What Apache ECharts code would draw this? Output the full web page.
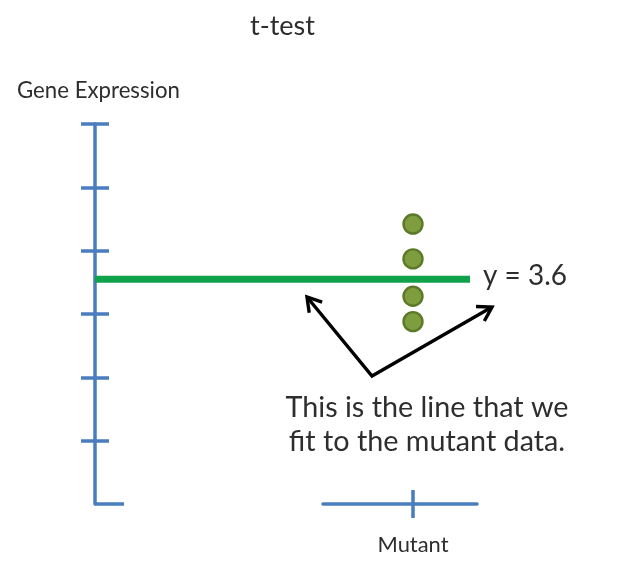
<!DOCTYPE html>
<html><head><meta charset="utf-8">
<script src="https://cdn.jsdelivr.net/npm/echarts@6/dist/echarts.min.js"></script>
<style>html,body{margin:0;padding:0;background:#fff}#c{width:618px;height:573px}</style>
</head><body><div id="c"></div>
<script>
const titleText = 't-test';
const yAxisName = 'Gene Expression';
const categories = ['Mutant'];
const mutantValues = [4.42, 3.87, 3.28, 2.88];
const fittedMean = [3.55];
const fitLabel = 'y = 3.6';
const yTickValues = [0, 1, 2, 3, 4, 5, 6];
const annotationLines = ['This is the line that we', 'fit to the mutant data.'];

const FONT = 'Lato';
const TXT = '#2e2e2e';
const BLUE = '#4a7dbd';
const AW = 3.5;
const ctx = document.createElement('canvas').getContext('2d');
function fit(text, w) { ctx.font = '100px ' + FONT; return 100 * w / ctx.measureText(text).width; }

const chart = echarts.init(document.getElementById('c'), null, { renderer: 'canvas' });

function arrowHead(tip, from, len, ang) {
  const dx = from[0] - tip[0], dy = from[1] - tip[1];
  const L = Math.hypot(dx, dy), ux = dx / L, uy = dy / L;
  const rot = (a) => [tip[0] + len * (ux * Math.cos(a) - uy * Math.sin(a)), tip[1] + len * (ux * Math.sin(a) + uy * Math.cos(a))];
  return [rot(ang), tip, rot(-ang)];
}
const vertex = [372, 376], tipL = [307, 297], tipR = [492, 307];
const arrowStyle = { stroke: '#000', lineWidth: 3.4, fill: null, lineJoin: 'miter', lineCap: 'butt' };

const lastTick = yTickValues[yTickValues.length - 1];

const option = {
  animation: false,
  backgroundColor: '#fff',
  title: {
    text: titleText, left: 245, top: 8,
    textStyle: { fontFamily: FONT, fontWeight: 'normal', color: TXT, fontSize: fit(titleText, 65) }
  },
  grid: [
    { left: 95, top: 124, width: 375, height: 380, outerBoundsMode: 'none' },
    { left: 349, top: 124, width: 128, height: 380, outerBoundsMode: 'none' },
    { left: 323, top: 124, width: 154, height: 380, outerBoundsMode: 'none' }
  ],
  xAxis: [
    { gridIndex: 0, type: 'value', min: 0, max: 1, show: false },
    { gridIndex: 1, type: 'category', data: categories, position: 'bottom',
      axisLine: { show: false },
      axisTick: { show: true, alignWithLabel: true, inside: false, length: 14, lineStyle: { color: BLUE, width: AW } },
      axisLabel: { show: true, margin: 41, verticalAlign: 'middle', color: TXT, fontFamily: FONT, fontSize: fit(categories[0], 71) },
      splitLine: { show: false } },
    { gridIndex: 1, type: 'category', data: categories, position: 'bottom',
      axisLine: { show: false },
      axisTick: { show: true, alignWithLabel: true, inside: true, length: 14, lineStyle: { color: BLUE, width: AW } },
      axisLabel: { show: false }, splitLine: { show: false } },
    { gridIndex: 2, type: 'value', min: 0, max: 1, position: 'bottom',
      axisLine: { show: true, lineStyle: { color: BLUE, width: AW } },
      axisTick: { show: false }, axisLabel: { show: false }, splitLine: { show: false } }
  ],
  yAxis: [
    { gridIndex: 0, type: 'value', min: yTickValues[0], max: lastTick, interval: 1, position: 'left',
      axisLine: { show: true, lineStyle: { color: BLUE, width: AW } },
      axisTick: { show: true, inside: false, length: 14, customValues: yTickValues.slice(1), lineStyle: { color: BLUE, width: AW } },
      axisLabel: { show: false }, splitLine: { show: false } },
    { gridIndex: 0, type: 'value', min: yTickValues[0], max: lastTick, interval: 1, position: 'left',
      axisLine: { show: false },
      axisTick: { show: true, inside: true, length: 14, customValues: yTickValues.slice(1), lineStyle: { color: BLUE, width: AW } },
      axisLabel: { show: false }, splitLine: { show: false } },
    { gridIndex: 0, type: 'value', min: yTickValues[0], max: lastTick, interval: 1, position: 'left',
      axisLine: { show: false },
      axisTick: { show: true, inside: true, length: 29, customValues: [yTickValues[0]], lineStyle: { color: BLUE, width: AW } },
      axisLabel: { show: false }, splitLine: { show: false } },
    { gridIndex: 1, type: 'value', min: yTickValues[0], max: lastTick, show: false },
    { gridIndex: 2, type: 'value', min: yTickValues[0], max: lastTick, show: false }
  ],
  series: [
    { type: 'line', xAxisIndex: 0, yAxisIndex: 0, data: [[0, fittedMean[0]], [1, fittedMean[0]]],
      symbol: 'none', z: 1,
      lineStyle: { color: '#10a24b', width: 7, cap: 'butt' },
      endLabel: { show: true, formatter: fitLabel, distance: 13, offset: [0, -3], color: TXT,
        fontFamily: FONT, fontSize: fit(fitLabel, 84) } },
    { type: 'scatter', xAxisIndex: 1, yAxisIndex: 3, z: 3,
      data: mutantValues.map(v => [categories[0], v]),
      symbol: 'circle', symbolSize: 19,
      itemStyle: { color: '#7d9d3e', borderColor: '#5b7a28', borderWidth: 2.4, opacity: 1 } }
  ],
  graphic: [
    { type: 'text', left: 17, top: 80, style: { text: yAxisName, fill: TXT, font: fit(yAxisName, 163).toFixed(2) + 'px ' + FONT } },
    { type: 'polyline', z: 10, shape: { points: [tipL, vertex, tipR] }, style: arrowStyle },
    { type: 'polyline', z: 10, shape: { points: arrowHead(tipL, vertex, 16, 0.55) }, style: arrowStyle },
    { type: 'polyline', z: 10, shape: { points: arrowHead(tipR, vertex, 16, 0.55) }, style: arrowStyle },
    { type: 'text', x: 427, y: 408, z: 10, style: { text: annotationLines[0], fill: TXT, align: 'center', verticalAlign: 'middle',
        font: fit(annotationLines[0], 283).toFixed(2) + 'px ' + FONT } },
    { type: 'text', x: 427, y: 442, z: 10, style: { text: annotationLines[1], fill: TXT, align: 'center', verticalAlign: 'middle',
        font: fit(annotationLines[0], 283).toFixed(2) + 'px ' + FONT } }
  ]
};
chart.setOption(option);
</script></body></html>
